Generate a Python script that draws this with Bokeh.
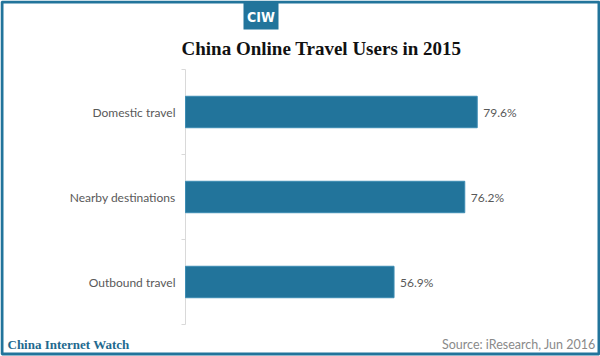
from bokeh.plotting import figure
from bokeh.models import Range1d, ColumnDataSource
from bokeh.embed import file_html
from bokeh.resources import INLINE
from bokeh.core.properties import value

categories = ["Outbound travel", "Nearby destinations", "Domestic travel"]
values = [56.9, 76.2, 79.6]
value_labels = ["56.9%", "76.2%", "79.6%"]
title_text = "China Online Travel Users in 2015"
source_text = "Source: iResearch, Jun 2016"
brand_text = "China Internet Watch"
logo_text = "CIW"

BLUE = "#22749b"
GRAY = "#595959"
W, H = 600, 356

# mapping of page pixels to data space (value 0 at x=185px, 3.665px per %, 85px per category)
X0, K = 185.0, 3.665
Y0, U = 324.0, 85.0
def dx(px):
    return (px - X0) / K
def dy(py):
    return (Y0 - py) / U

ys = [i + 0.5 for i in range(len(categories))]
bounds = list(range(len(categories) + 1))
src = ColumnDataSource(dict(y=ys, v=values, lab=value_labels, cat=categories))

p = figure(width=W, height=H, output_backend="svg", toolbar_location=None,
           x_range=Range1d(dx(0), dx(W)), y_range=Range1d(dy(H), dy(0)),
           x_axis_location=None, y_axis_location=None,
           min_border=0, min_border_left=0, min_border_right=0,
           min_border_top=0, min_border_bottom=0)
p.outline_line_color = None
p.background_fill_color = "white"
p.border_fill_color = "white"
p.xgrid.visible = False
p.ygrid.visible = False

# outer frame
p.quad(left=[dx(1.5)], right=[dx(W - 1.5)], top=[dy(1.5)], bottom=[dy(353.5)],
       fill_color=None, line_color=BLUE, line_width=3)
# logo box
p.quad(left=[dx(243)], right=[dx(278)], top=[dy(2)], bottom=[dy(29)],
       fill_color=BLUE, line_color=None)
p.text(x=[dx(260.5)], y=[dy(16)], text=[logo_text], text_align="center",
       text_baseline="middle", text_font=value("DejaVu Sans Condensed"),
       text_font_style="bold", text_font_size="14px", text_color="white")

# title
p.text(x=[dx(321)], y=[dy(48)], text=[title_text], text_align="center",
       text_baseline="middle", text_font=value("Liberation Serif"),
       text_font_style="bold", text_font_size="19px", text_color="#111111")

# category axis: line, boundary ticks, labels
p.segment(x0=[0], x1=[0], y0=[bounds[0]], y1=[bounds[-1]], line_color="#d9d9d9", line_width=1)
p.segment(x0=[dx(181)] * len(bounds), x1=[0] * len(bounds), y0=bounds, y1=bounds,
          line_color="#d9d9d9", line_width=1)
p.text(x=0, y="y", text="cat", source=src, x_offset=-10, text_align="right",
       text_baseline="middle", text_font=value("Lato"), text_font_size="12px",
       text_color=GRAY)

# bars and value labels
p.hbar(y="y", right="v", left=0, height=0.37, source=src,
       fill_color=BLUE, line_color="#3d8cb3", line_width=1)
p.text(x="v", y="y", text="lab", source=src, x_offset=6,
       text_baseline="middle", text_align="left",
       text_font=value("Lato"), text_font_size="12px", text_color=GRAY)

# footer
p.text(x=[dx(7)], y=[dy(344)], text=[brand_text], text_align="left",
       text_baseline="middle", text_font=value("Liberation Serif"),
       text_font_style="bold", text_font_size="13px", text_color="#1f6a8f")
p.text(x=[dx(595)], y=[dy(344)], text=[source_text], text_align="right",
       text_baseline="middle", text_font=value("Lato"), text_font_size="12.5px",
       text_color="#8a8a8a")

open("out.html", "w").write(file_html(p, INLINE))
